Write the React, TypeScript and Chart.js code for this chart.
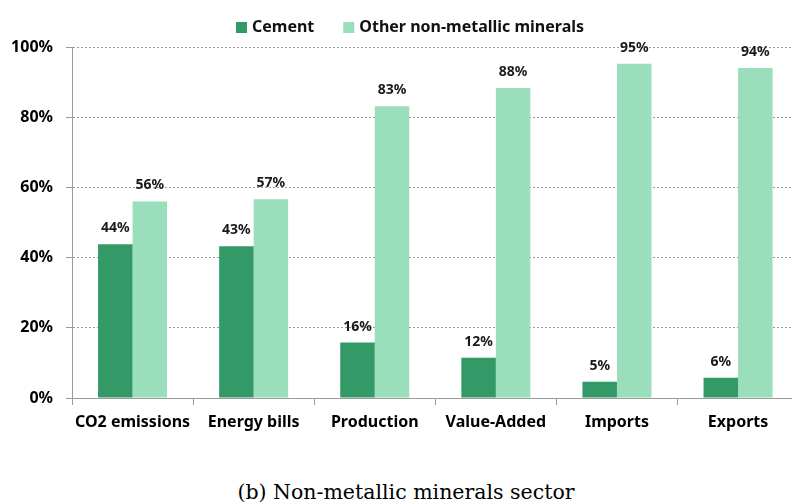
import React, { useEffect, useRef } from 'react';
import { Chart, registerables } from 'chart.js';

Chart.register(...registerables);

const categories = ['CO2 emissions', 'Energy bills', 'Production', 'Value-Added', 'Imports', 'Exports'];
const cementShare = [43.8, 43.2, 15.8, 11.5, 4.6, 5.8];
const otherShare = [56.0, 56.6, 83.1, 88.3, 95.2, 94.0];
const seriesNames = ['Cement', 'Other non-metallic minerals'];
const seriesColors = ['#339966', '#9ADEBB'];
const yTickValues = [0, 20, 40, 60, 80, 100];
const caption = '(b) Non-metallic minerals sector';

const FONT = "'Noto Sans', sans-serif";

const valueLabels = {
  id: 'valueLabels',
  afterDatasetsDraw(chart: any) {
    const ctx = chart.ctx;
    ctx.save();
    ctx.font = `bold 14px ${FONT}`;
    ctx.fillStyle = '#1a1a1a';
    ctx.textAlign = 'center';
    ctx.textBaseline = 'alphabetic';
    chart.data.datasets.forEach((ds: any, di: number) => {
      const meta = chart.getDatasetMeta(di);
      meta.data.forEach((bar: any, i: number) => {
        const v = ds.data[i];
        ctx.fillText(`${Math.round(v)}%`, bar.x, bar.y - 12);
      });
    });
    ctx.restore();
  },
};

const topLegend = {
  id: 'topLegend',
  afterDraw(chart: any) {
    const ctx = chart.ctx;
    ctx.save();
    ctx.font = `bold 16px ${FONT}`;
    const box = 11;
    const gapText = 5;
    const gapItem = 29;
    const items = chart.data.datasets.map((ds: any) => ({
      label: ds.label,
      color: ds.backgroundColor,
      w: ctx.measureText(ds.label).width,
    }));
    const total =
      items.reduce((s: number, it: any) => s + box + gapText + it.w, 0) + gapItem * (items.length - 1);
    let x = chart.width / 2 - total / 2;
    const cy = 27.5;
    ctx.textBaseline = 'middle';
    ctx.textAlign = 'left';
    items.forEach((it: any) => {
      ctx.fillStyle = it.color;
      ctx.fillRect(x, cy - box / 2, box, box);
      x += box + gapText;
      ctx.fillStyle = '#111';
      ctx.fillText(it.label, x, cy);
      x += it.w + gapItem;
    });
    ctx.restore();
  },
};

function BarChart() {
  const ref = useRef<HTMLCanvasElement | null>(null);
  useEffect(() => {
    if (!ref.current) return;
    const chart = new Chart(ref.current, {
      type: 'bar',
      data: {
        labels: categories,
        datasets: [
          {
            label: seriesNames[0],
            data: cementShare,
            backgroundColor: seriesColors[0],
            borderWidth: 0,
            categoryPercentage: 0.57,
            barPercentage: 1.0,
          },
          {
            label: seriesNames[1],
            data: otherShare,
            backgroundColor: seriesColors[1],
            borderWidth: 0,
            categoryPercentage: 0.57,
            barPercentage: 1.0,
          },
        ],
      },
      options: {
        responsive: false,
        animation: false,
        layout: { padding: { left: 0, right: 21.4, top: 47, bottom: 0 } },
        plugins: {
          legend: { display: false },
          tooltip: { enabled: false },
        },
        scales: {
          x: {
            afterFit: (scale: any) => {
              scale.height = 52;
            },
            grid: {
              display: true,
              drawOnChartArea: false,
              drawTicks: true,
              tickLength: 7,
              color: '#9a9a9a',
              offset: true,
            },
            border: { display: true, color: '#9a9a9a', width: 1 },
            ticks: {
              color: '#000',
              padding: 8,
              maxRotation: 0,
              minRotation: 0,
              autoSkip: false,
              font: { family: FONT, size: 16, weight: 'bold' },
            },
          },
          y: {
            min: 0,
            max: 100,
            afterFit: (scale: any) => {
              scale.width = 72;
            },
            afterBuildTicks: (scale: any) => {
              scale.ticks = yTickValues.map((v) => ({ value: v }));
            },
            grid: {
              color: '#9a9a9a',
              lineWidth: 1,
              tickLength: 6,
              tickBorderDash: [],
              tickColor: '#9a9a9a',
            },
            border: { display: true, color: '#9a9a9a', width: 1, dash: [2, 2] },
            ticks: {
              color: '#000',
              padding: 13,
              font: { family: FONT, size: 16, weight: 'bold' },
              callback: (v: any) => `${v}%`,
            },
          },
        },
      },
      plugins: [valueLabels, topLegend],
    } as any);
    return () => chart.destroy();
  }, []);
  return <canvas ref={ref} width={820} height={450} style={{ display: 'block' }} />;
}

export default function App() {
  return (
    <div
      style={{
        position: 'absolute',
        left: 0,
        top: 0,
        width: 792,
        height: 504,
        overflow: 'hidden',
        background: '#fff',
      }}
    >
      <BarChart />
      <div
        style={{
          position: 'absolute',
          left: 0,
          top: 482,
          width: 812,
          textAlign: 'center',
          fontFamily: "'DejaVu Serif', serif",
          fontSize: '20.5px',
          lineHeight: '20px',
          color: '#000',
          whiteSpace: 'nowrap',
        }}
      >
        {caption}
      </div>
    </div>
  );
}
